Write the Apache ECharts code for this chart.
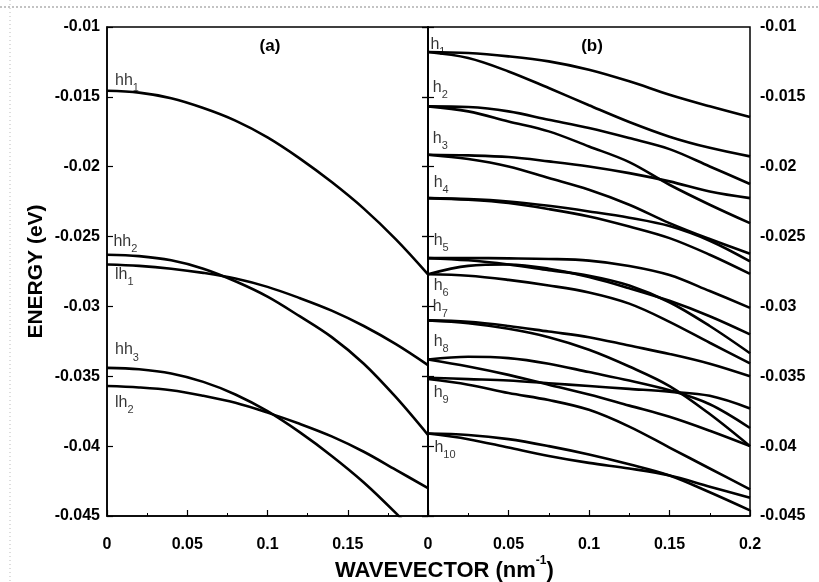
<!DOCTYPE html>
<html><head><meta charset="utf-8">
<script src="https://cdn.jsdelivr.net/npm/echarts@6/dist/echarts.min.js"></script>
<style>html,body{margin:0;padding:0;background:#fff}#c{width:819px;height:582px}</style>
</head><body><div id="c"></div>
<script>
// ---------- data ----------
// panel (a) wavevector samples (nm^-1)
const kA = [0, 0.02, 0.04, 0.06, 0.08, 0.10, 0.12, 0.14, 0.16, 0.18, 0.20];
const hh1 = [-0.01456, -0.0147, -0.0151, -0.0158, -0.0167, -0.0179, -0.0194, -0.0211, -0.0230, -0.0252, -0.0277];
const hh2 = [-0.0263, -0.0264, -0.0267, -0.0273, -0.0282, -0.0293, -0.0307, -0.0322, -0.0341, -0.0365, -0.0392];
const lh1 = [-0.0270, -0.0271, -0.0273, -0.0276, -0.0280, -0.0286, -0.0294, -0.0303, -0.0314, -0.0327, -0.0342];
const hh3 = [-0.0344, -0.0345, -0.0348, -0.0354, -0.0363, -0.0375, -0.0390, -0.0407, -0.0426, -0.0448, -0.0472];
const lh2 = [-0.0357, -0.0358, -0.0360, -0.0364, -0.0369, -0.0376, -0.0384, -0.0393, -0.0404, -0.0417, -0.0430];

// panel (b) wavevector samples (nm^-1)
const kB = [0, 0.025, 0.05, 0.075, 0.1, 0.125, 0.15, 0.175, 0.2];
const h1u = [-0.01179, -0.01186, -0.0121, -0.01246, -0.01306, -0.01389, -0.01485, -0.01568, -0.01645];
const h1l = [-0.01179, -0.01222, -0.01318, -0.01437, -0.01560, -0.01680, -0.01785, -0.01865, -0.01926];
const h2u = [-0.01568, -0.01573, -0.01604, -0.01664, -0.01723, -0.01795, -0.01874, -0.01998, -0.02124];
const h2l = [-0.01568, -0.01604, -0.01676, -0.01747, -0.01855, -0.01967, -0.02129, -0.02272, -0.02404];
const h3u = [-0.01914, -0.01919, -0.01931, -0.01962, -0.01998, -0.02046, -0.02105, -0.02177, -0.02225];
const h3l = [-0.01914, -0.01945, -0.01998, -0.02081, -0.02165, -0.02272, -0.02404, -0.02518, -0.02623];
const h4u = [-0.02225, -0.02232, -0.02249, -0.02280, -0.02320, -0.02365, -0.02425, -0.02530, -0.02678];
const h4l = [-0.02225, -0.02237, -0.0226, -0.02303, -0.02356, -0.02428, -0.02511, -0.0263, -0.02767];
const h5u = [-0.02654, -0.02654, -0.02656, -0.0266, -0.02672, -0.0271, -0.02775, -0.0289, -0.0301];
const h5l = [-0.02654, -0.0267, -0.0270, -0.0274, -0.0278, -0.0285, -0.0297, -0.0314, -0.03335];
const h6u = [-0.0277, -0.0271, -0.0270, -0.0273, -0.0279, -0.0287, -0.0296, -0.0307, -0.0320];
const h6l = [-0.0277, -0.0278, -0.0281, -0.0285, -0.0290, -0.0298, -0.0311, -0.0326, -0.03407];
const h7u = [-0.0310, -0.0311, -0.0314, -0.0318, -0.0322, -0.0328, -0.0334, -0.0341, -0.0350];
const h7l = [-0.0310, -0.0312, -0.0316, -0.0322, -0.0331, -0.0343, -0.0357, -0.0377, -0.0400];
const h8u = [-0.0338, -0.0336, -0.0337, -0.0341, -0.0347, -0.0353, -0.0360, -0.0370, -0.0387];
const h8l = [-0.0338, -0.0343, -0.0349, -0.0356, -0.0363, -0.0371, -0.0379, -0.0389, -0.0400];
const h9u = [-0.0351, -0.0352, -0.0353, -0.0355, -0.0357, -0.0359, -0.0361, -0.0364, -0.0373];
const h9l = [-0.0352, -0.0356, -0.0362, -0.0367, -0.0374, -0.0386, -0.0401, -0.0416, -0.0431];
const h10u = [-0.0391, -0.0392, -0.0395, -0.0400, -0.0406, -0.0413, -0.0421, -0.0433, -0.0446];
const h10l = [-0.0391, -0.0395, -0.0401, -0.0407, -0.0412, -0.0416, -0.0421, -0.0429, -0.0437];

// curve labels: [main, subscript, wavevector, energy]
const labelsA = [
  ['hh', '1', 0.005, -0.0140],
  ['hh', '2', 0.004, -0.02554],
  ['lh', '1', 0.005, -0.02788],
  ['hh', '3', 0.005, -0.0333],
  ['lh', '2', 0.005, -0.03705]
];
const labelsB = [
  ['h', '1', 0.0015, -0.01143],
  ['h', '2', 0.003, -0.01449],
  ['h', '3', 0.003, -0.01819],
  ['h', '4', 0.0035, -0.0213],
  ['h', '5', 0.0035, -0.02547],
  ['h', '6', 0.0035, -0.0287],
  ['h', '7', 0.003, -0.0302],
  ['h', '8', 0.0035, -0.03268],
  ['h', '9', 0.0035, -0.03633],
  ['h', '10', 0.004, -0.0403]
];

const yTicksMin = -0.045, yTicksMax = -0.01, yStep = 0.005;
const xTicksMin = 0, xTicksMax = 0.2, xStep = 0.05;

// ---------- chart ----------
const FONT = '"Liberation Sans", Arial, Helvetica, sans-serif';
const fmt = v => String(+(+v).toFixed(4));

const curvesA = [hh1, hh2, lh1, hh3, lh2];
const curvesB = [h1u, h1l, h2u, h2l, h3u, h3l, h4u, h4l, h5u, h5l, h6u, h6l,
                 h7u, h7l, h8u, h8l, h9u, h9l, h10u, h10l];

function lineSeries(ks, ys, idx) {
  return {
    type: 'line', xAxisIndex: idx, yAxisIndex: idx,
    data: ks.map((k, i) => [k, ys[i]]),
    smooth: 0.35, symbol: 'none', silent: true, clip: true,
    lineStyle: { color: '#000', width: 2.6 }
  };
}
function labelSeries(list, idx) {
  return {
    type: 'scatter', xAxisIndex: idx, yAxisIndex: idx, symbolSize: 0, silent: true,
    data: list.map(l => ({ value: [l[2], l[3]], label: { formatter: '{m|' + l[0] + '}{s|' + l[1] + '}' } })),
    label: {
      show: true, position: 'right', distance: 0,
      rich: {
        m: { fontFamily: FONT, fontSize: 16, color: '#000', lineHeight: 16, verticalAlign: 'top' },
        s: { fontFamily: FONT, fontSize: 11, color: '#000', lineHeight: 21, verticalAlign: 'bottom' }
      }
    }
  };
}

const tickLabel = { fontFamily: FONT, fontSize: 16, fontWeight: 'bold', color: '#000' };
const axLine = { show: true, lineStyle: { color: '#000', width: 1.5 } };
const tick = { show: true, inside: true, length: 6, lineStyle: { color: '#000', width: 1.2 } };
const minor = { show: true, splitNumber: 2, length: 3, lineStyle: { color: '#000', width: 1 } };

function xAx(idx, hideLast) {
  return {
    gridIndex: idx, type: 'value', min: xTicksMin, max: xTicksMax, interval: xStep,
    axisLine: axLine, axisTick: tick, minorTick: minor, splitLine: { show: false },
    axisLabel: Object.assign({ margin: 21, formatter: v => (hideLast && v > 0.19) ? '' : fmt(v) }, tickLabel)
  };
}
function yAx(idx, pos, showLabel) {
  return {
    gridIndex: idx, type: 'value', position: pos, min: yTicksMin, max: yTicksMax, interval: yStep,
    axisLine: axLine, axisTick: tick, splitLine: { show: false },
    axisLabel: Object.assign({ show: showLabel, margin: pos === 'left' ? 7 : 10, formatter: fmt }, tickLabel)
  };
}

const y0 = yAx(0, 'left', true);
y0.name = 'ENERGY (eV)';
y0.nameLocation = 'middle';
y0.nameGap = 60;
y0.nameRotate = 90;
y0.nameTextStyle = { fontFamily: FONT, fontSize: 21, fontWeight: 'bold', color: '#000' };

const option = {
  animation: false,
  backgroundColor: '#fff',
  grid: [
    { left: 107, right: 391, top: 27, bottom: 66, show: true, borderColor: '#000', borderWidth: 1.5, backgroundColor: 'transparent' },
    { left: 428, right: 69, top: 27, bottom: 66, show: true, borderColor: '#000', borderWidth: 1.5, backgroundColor: 'transparent' }
  ],
  xAxis: [xAx(0, true), xAx(1, false)],
  yAxis: [y0, yAx(1, 'right', true), yAx(0, 'right', false), yAx(1, 'left', false)],
  series: [].concat(
    curvesA.map(c => lineSeries(kA, c, 0)),
    curvesB.map(c => lineSeries(kB, c, 1)),
    [labelSeries(labelsA, 0), labelSeries(labelsB, 1)]
  ),
  graphic: [
    { type: 'line', silent: true, shape: { x1: 0, y1: 7, x2: 819, y2: 7 }, style: { stroke: '#888', lineWidth: 1, lineDash: [2, 2] } },
    { type: 'line', silent: true, shape: { x1: 10, y1: 0, x2: 10, y2: 582 }, style: { stroke: '#bbb', lineWidth: 1, lineDash: [1, 3] } },
    { type: 'text', silent: true, x: 270, y: 46, style: { text: '(a)', align: 'center', verticalAlign: 'middle', fontFamily: FONT, fontSize: 17, fontWeight: 'bold', fill: '#000' } },
    { type: 'text', silent: true, x: 592, y: 46, style: { text: '(b)', align: 'center', verticalAlign: 'middle', fontFamily: FONT, fontSize: 17, fontWeight: 'bold', fill: '#000' } },
    { type: 'text', silent: true, x: 335, y: 555, style: {
        text: '{a|WAVEVECTOR (nm}{b|-1}{a|)}',
        rich: {
          a: { fontFamily: FONT, fontSize: 22, fontWeight: 'bold', fill: '#000', lineHeight: 27, verticalAlign: 'bottom' },
          b: { fontFamily: FONT, fontSize: 12, fontWeight: 'bold', fill: '#000', lineHeight: 12, verticalAlign: 'top' }
        } } }
  ]
};

const chart = echarts.init(document.getElementById('c'), null, { renderer: 'canvas' });
chart.setOption(option);
</script></body></html>
